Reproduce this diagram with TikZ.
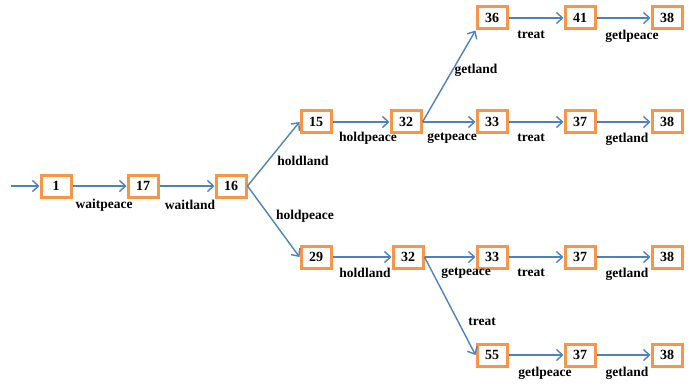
\documentclass[tikz,border=0pt]{standalone}
\usepackage{fontspec}
\setmainfont{Liberation Serif}
\usetikzlibrary{arrows.meta}
\definecolor{boxorange}{RGB}{247,150,70}
\definecolor{lineblue}{RGB}{79,129,189}
\begin{document}
\begin{tikzpicture}[x=1pt,y=-1pt,
  state/.style={draw=boxorange,line width=3pt,fill=white,minimum width=30pt,minimum height=22pt,inner sep=0pt,font=\bfseries\fontsize{14}{14}\selectfont},
  lbl/.style={font=\bfseries\fontsize{13.5}{13.5}\selectfont,inner sep=0pt},
  edge/.style={draw=lineblue,line width=1.4pt,-{Straight Barb[length=6pt,width=11pt,line width=1.4pt]}}]
\useasboundingbox (0,0) rectangle (693,385);
\node[state] (n1) at (56,186) {1};
\node[state] (n17) at (143,186) {17};
\node[state] (n16) at (231,186) {16};
\node[state] (n15) at (316,122) {15};
\node[state] (n32a) at (406,122) {32};
\node[state] (n36) at (492,18) {36};
\node[state] (n41) at (580,18) {41};
\node[state] (n38a) at (667,18) {38};
\node[state] (n33a) at (492,122) {33};
\node[state] (n37a) at (580,122) {37};
\node[state] (n38b) at (667,122) {38};
\node[state] (n29) at (316,257) {29};
\node[state] (n32b) at (408,257) {32};
\node[state] (n33b) at (492,257) {33};
\node[state] (n37b) at (580,257) {37};
\node[state] (n38c) at (667,257) {38};
\node[state] (n55) at (492,355) {55};
\node[state] (n37c) at (580,355) {37};
\node[state] (n38d) at (667,355) {38};
\coordinate (start) at (11,186);

\draw[edge] (start) -- (n1);
\draw[edge] (n1) -- (n17);
\draw[edge] (n17) -- (n16);
\draw[edge] (n16.east) -- (n15.west);
\draw[edge] (n16.east) -- (n29.west);
\draw[edge] (n15) -- (n32a);
\draw[edge] (n32a.east) -- (n36.south west);
\draw[edge] (n32a) -- (n33a);
\draw[edge] (n36) -- (n41);
\draw[edge] (n41) -- (n38a);
\draw[edge] (n33a) -- (n37a);
\draw[edge] (n37a) -- (n38b);
\draw[edge] (n29) -- (n32b);
\draw[edge] (n32b) -- (n33b);
\draw[edge] (n32b.east) -- (n55.west);
\draw[edge] (n33b) -- (n37b);
\draw[edge] (n37b) -- (n38c);
\draw[edge] (n55) -- (n37c);
\draw[edge] (n37c) -- (n38d);

\node[lbl] (l1) at (104,205) {waitpeace};
\node[lbl] (l2) at (190,205) {waitland};
\node[lbl] (l3) at (303,161) {holdland};
\node[lbl] (l4) at (305,216) {holdpeace};
\node[lbl] (l5) at (368,138) {holdpeace};
\node[lbl] (l6) at (452,138) {getpeace};
\node[lbl] (l7) at (531,138) {treat};
\node[lbl] (l8) at (627,139) {getland};
\node[lbl] (l9) at (476,70) {getland};
\node[lbl] (l10) at (531,35) {treat};
\node[lbl] (l11) at (632,36) {getlpeace};
\node[lbl] (l12) at (365,273) {holdland};
\node[lbl] (l13) at (466,273) {getpeace};
\node[lbl] (l14) at (531,273) {treat};
\node[lbl] (l15) at (627,274) {getland};
\node[lbl] (l16) at (482,322) {treat};
\node[lbl] (l17) at (545,373) {getlpeace};
\node[lbl] (l18) at (627,373) {getland};
\end{tikzpicture}
\end{document}
